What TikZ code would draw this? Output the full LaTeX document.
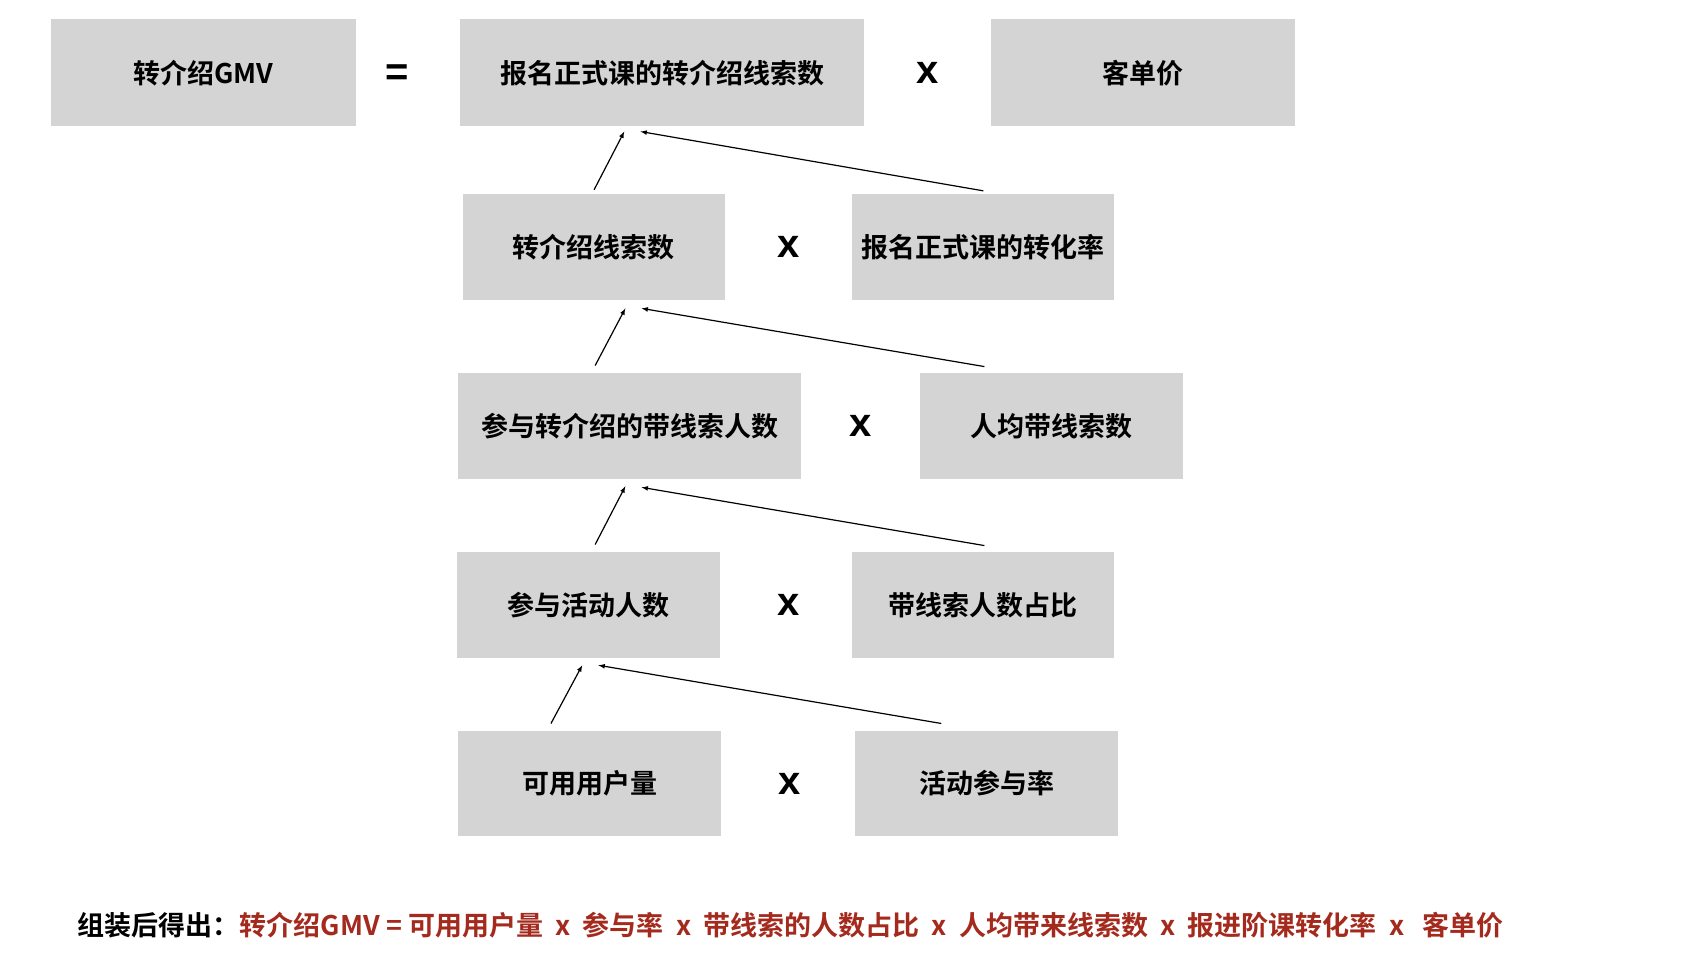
\documentclass[tikz,border=0pt]{standalone}
\usepackage{fontspec}
\setmainfont{Noto Sans CJK SC}[BoldFont={* Bold}]
\setsansfont{Liberation Sans}
\begin{document}
\begin{tikzpicture}[x=1.0782pt,y=-1.0782pt,
 box/.style={fill=black!17,draw=none,inner sep=0pt,font=\fontsize{27}{30}\selectfont\bfseries},
 op/.style={font=\fontsize{40}{40}\selectfont\bfseries\sffamily},
 arr/.style={-latex,line width=1.2pt}]
\useasboundingbox[fill=white] (0,0) rectangle (1560,885);
\newcommand\bx[6]{\node[box,minimum width=#4*1.0782pt-#2*1.0782pt,minimum height=#5*1.0782pt-#3*1.0782pt] (#1) at ({(#2+#4)/2},{(#3+#5)/2}) {#6};}
\bx{a}{47}{18}{330}{117}{转介绍GMV}
\bx{b}{427}{18}{801}{117}{报名正式课的转介绍线索数}
\bx{c}{919}{18}{1201}{117}{客单价}
\bx{d}{429}{180}{672}{278}{转介绍线索数}
\bx{e}{790}{180}{1033}{278}{报名正式课的转化率}
\bx{f}{425}{346}{743}{444}{参与转介绍的带线索人数}
\bx{g}{853}{346}{1097}{444}{人均带线索数}
\bx{h}{424}{512}{668}{610}{参与活动人数}
\bx{i}{790}{512}{1033}{610}{带线索人数占比}
\bx{j}{425}{678}{669}{775}{可用用户量}
\bx{k}{793}{678}{1037}{775}{活动参与率}
\node[op] (eq) at (368,70) {=};
\node[op] (x1) at (860,68) {x};
\node[op] (x2) at (731,229) {x};
\node[op] (x3) at (798,395) {x};
\node[op] (x4) at (731,561) {x};
\node[op] (x5) at (732,727) {x};
\coordinate (b1) at (579,122); \coordinate (b2) at (594,122);
\coordinate (d1) at (580,286); \coordinate (d2) at (595,286);
\coordinate (f1) at (580,451); \coordinate (f2) at (595,452);
\coordinate (h1) at (540,617); \coordinate (h2) at (555,617);
\draw[arr] (551,176) -- (b1); \draw[arr] (912,177) -- (b2);
\draw[arr] (552,339) -- (d1); \draw[arr] (913,340) -- (d2);
\draw[arr] (552,505) -- (f1); \draw[arr] (913,506) -- (f2);
\draw[arr] (511,671) -- (h1); \draw[arr] (873,671) -- (h2);
\node[anchor=west,inner sep=0pt,font=\fontsize{27}{30}\selectfont\bfseries] (sum) at (72,858)
 {组装后得出：\textcolor[HTML]{A52A1E}{转介绍GMV = 可用用户量 \ x \ 参与率 \ x \ 带线索的人数占比 \ x \ 人均带来线索数 \ x \ 报进阶课转化率 \ x \ \ 客单价}};
\end{tikzpicture}
\end{document}
